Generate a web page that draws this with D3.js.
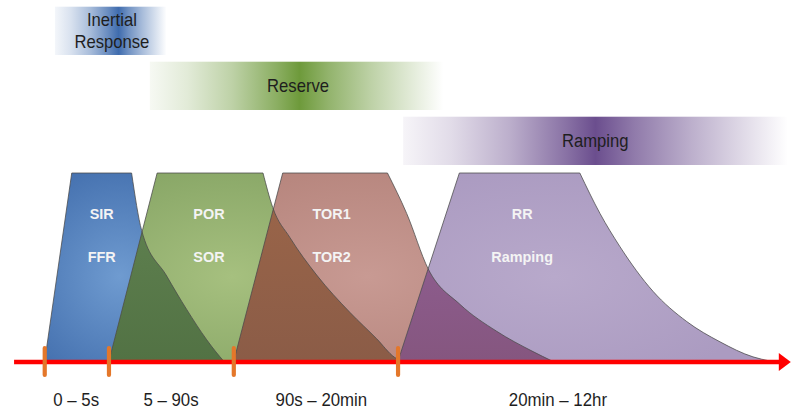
<!DOCTYPE html>
<html>
<head>
<meta charset="utf-8">
<script src="https://cdn.jsdelivr.net/npm/d3@7"></script>
<style>
  html, body { margin: 0; padding: 0; background: #ffffff; }
  svg { display: block; }
  text { font-family: "Liberation Sans", Arial, sans-serif; }
</style>
</head>
<body>
<svg id="chart" width="791" height="412"></svg>
<script>
// ---------- data (timeline units 0..100, response level 0..100) ----------
const services      = ["SIR/FFR", "POR/SOR", "TOR1/TOR2", "RR/Ramping"];
const labelUpper    = ["SIR", "POR", "TOR1", "RR"];
const labelLower    = ["FFR", "SOR", "TOR2", "Ramping"];
const labelCenters  = [7.9, 22.6, 39.4, 65.5];
const startX        = [0.1, 8.9, 26.0, 48.5];
const topStartX     = [3.8, 15.5, 32.7, 56.9];
const topEndX       = [12.0, 30.0, 47.05, 73.4];
const tails = [
  [[13.38, 69.4], [16.81, 45.2], [19.55, 27.4], [22.29, 11.3], [23.56, 4.8], [24.6, 0]],
  [[31.33, 81.7], [33.70, 65.6], [37.36, 45.7], [41.92, 25.8], [45.58, 11.8], [48.0, 2.0], [48.9, 0]],
  [[49.68, 78.5], [52.64, 48.9], [56.99, 30.1], [62.01, 15.8], [66.99, 5.0], [69.6, 0]],
  [[76.16, 78.5], [78.90, 60.8], [83.42, 37.1], [88.04, 21.0], [92.60, 10.2], [97.12, 2.2], [99.45, 0]]
];
const boundaries    = [0.1, 8.9, 26.0, 48.5];
const periodLabels  = ["0 – 5s", "5 – 90s", "90s – 20min", "20min – 12hr"];
const periodCenters = [4.4, 17.4, 38.0, 70.4];
const bandLabels    = [["Inertial", "Response"], ["Reserve"], ["Ramping"]];
const bandStart     = [1.5, 14.5, 49.2];
const bandEnd       = [16.8, 54.7, 101.9];
const bandPeak      = [0.57, 0.51, 0.50];
const bandTextX     = [9.3, 34.8, 75.5];
const axisStart     = -4.1;
const axisEnd       = 102.3;

// ---------- styles ----------
const fillInner   = ["#6f9bd0", "#a6c07f", "#c89a93", "#b8a9cb"];
const fillOuter   = ["#4672b0", "#89a767", "#b7867e", "#ab9bc1"];
const overlapTop  = [null, "#628452", "#9c6649", "#94629a"];
const overlapBot  = [null, "#527244", "#8b5c47", "#85567f"];
const bandColors  = ["#3f6cae", "#6e9a3b", "#6b4e8e"];
const NARROW = 0.9;

const svg = d3.select("#chart");
const defs = svg.append("defs");

const x = d3.scaleLinear().domain([0, 100]).range([44, 774]);
const y = d3.scaleLinear().domain([0, 100]).range([361, 173]);
const row = d3.scaleBand().domain([0, 1, 2]).range([6.7, 165]).paddingInner(0.122);

// narrow text helper (reference uses a condensed face)
function narrowText(parent, cx, cy, str, size, fill, weight, sx) {
  return parent.append("text")
    .attr("transform", `translate(${cx},${cy}) scale(${sx},1)`)
    .attr("text-anchor", "middle")
    .attr("font-size", size).attr("font-weight", weight || "normal")
    .attr("fill", fill).text(str);
}

// ---------- bands ----------
bandLabels.forEach((lab, i) => {
  const g = defs.append("linearGradient").attr("id", "band" + i)
    .attr("x1", "0").attr("x2", "1").attr("y1", "0").attr("y2", "0");
  const p = bandPeak[i];
  const stops = [[0, 0.06], [p * 0.25, 0.2], [p * 0.55, 0.45], [p * 0.85, 0.8], [p, 1],
                 [p + (1 - p) * 0.2, 0.75], [p + (1 - p) * 0.5, 0.45], [p + (1 - p) * 0.8, 0.18], [1, 0]];
  stops.forEach(s => g.append("stop").attr("offset", s[0]).attr("stop-color", bandColors[i]).attr("stop-opacity", s[1]));
});
const bands = svg.append("g").attr("class", "bands");
bandLabels.forEach((lab, i) => {
  bands.append("rect")
    .attr("x", x(bandStart[i])).attr("width", x(bandEnd[i]) - x(bandStart[i]))
    .attr("y", row(i)).attr("height", row.bandwidth())
    .attr("fill", `url(#band${i})`);
  const cx = x(bandTextX[i]);
  const cy = row(i) + row.bandwidth() / 2;
  if (lab.length === 1) {
    narrowText(bands, cx, cy + 6.5, lab[0], 18.5, "#1e1e1e", "normal", NARROW);
  } else {
    narrowText(bands, cx, cy - 5, lab[0], 18.5, "#1e1e1e", "normal", NARROW);
    narrowText(bands, cx, cy + 17.5, lab[1], 18.5, "#1e1e1e", "normal", NARROW);
  }
});

// ---------- shapes ----------
const tailLine = d3.line().x(d => x(d[0])).y(d => y(d[1])).curve(d3.curveMonotoneX);
function shapePath(i) {
  const head = `M${x(startX[i])},${y(0)}L${x(topStartX[i])},${y(100)}L${x(topEndX[i])},${y(100)}`;
  const tail = tailLine([[topEndX[i], 100], ...tails[i]]).replace(/^M/, "L");
  return head + tail + "Z";
}
const paths = services.map((s, i) => shapePath(i));

services.forEach((s, i) => {
  const rg = defs.append("radialGradient").attr("id", "fill" + i)
    .attr("cx", 0.42).attr("cy", 0.55).attr("r", 0.6);
  rg.append("stop").attr("offset", 0).attr("stop-color", fillInner[i]);
  rg.append("stop").attr("offset", 1).attr("stop-color", fillOuter[i]);
  defs.append("clipPath").attr("id", "clip" + i).append("path").attr("d", paths[i]);
  if (i > 0) {
    const lg = defs.append("linearGradient").attr("id", "ov" + i)
      .attr("x1", 0).attr("x2", 0).attr("y1", 0).attr("y2", 1);
    lg.append("stop").attr("offset", 0).attr("stop-color", overlapTop[i]);
    lg.append("stop").attr("offset", 1).attr("stop-color", overlapBot[i]);
  }
});

const shapes = svg.append("g").attr("class", "shapes");
services.forEach((s, i) => {
  shapes.append("path").attr("d", paths[i]).attr("fill", `url(#fill${i})`);
  if (i > 0) {
    shapes.append("path").attr("d", paths[i])
      .attr("clip-path", `url(#clip${i - 1})`)
      .attr("fill", `url(#ov${i})`);
  }
});
services.forEach((s, i) => {
  shapes.append("path").attr("d", paths[i]).attr("fill", "none")
    .attr("stroke", "#4a4a4a").attr("stroke-width", 0.9).attr("stroke-opacity", 0.85);
});

// labels inside shapes
services.forEach((s, i) => {
  const cx = x(labelCenters[i]);
  narrowText(shapes, cx, 219, labelUpper[i], 15.5, "#f4f4f4", "bold", 0.93);
  narrowText(shapes, cx, 261.5, labelLower[i], 15.5, "#f4f4f4", "bold", 0.93);
});

// ---------- axis ----------
const axis = svg.append("g").attr("class", "axis");
axis.append("line")
  .attr("x1", x(axisStart)).attr("x2", x(axisEnd) - 9)
  .attr("y1", y(0) + 1).attr("y2", y(0) + 1)
  .attr("stroke", "#ff0000").attr("stroke-width", 4.5);
axis.append("path")
  .attr("d", `M${x(axisEnd)},${y(0) + 1}L${x(axisEnd) - 12},${y(0) - 8}L${x(axisEnd) - 12},${y(0) + 10}Z`)
  .attr("fill", "#ff0000");
axis.selectAll("line.tick").data(boundaries).join("line").attr("class", "tick")
  .attr("x1", d => x(d)).attr("x2", d => x(d))
  .attr("y1", 348).attr("y2", 375)
  .attr("stroke", "#e4772a").attr("stroke-width", 4.2).attr("stroke-linecap", "round");
periodLabels.forEach((lab, i) => {
  narrowText(axis, x(periodCenters[i]), 406, lab, 18.5, "#1e1e1e", "normal", 0.91);
});
</script>
</body>
</html>
